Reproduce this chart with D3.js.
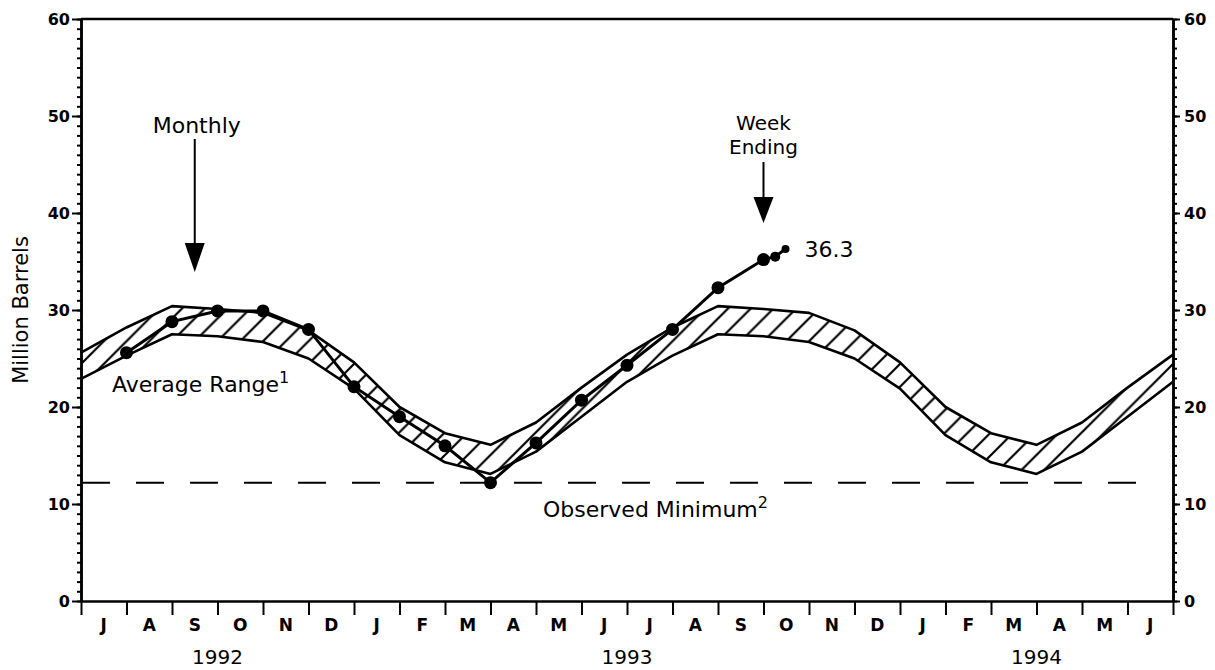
<!DOCTYPE html>
<html>
<head>
<meta charset="utf-8">
<script src="https://cdn.jsdelivr.net/npm/d3@7"></script>
<style>
  body { margin: 0; background: #fff; }
  text { font-family: "DejaVu Sans", sans-serif; fill: #000; }
</style>
</head>
<body>
<svg width="1215" height="670"></svg>
<script>
// month labels, Jul 1992 .. Jun 1994
var months = ["J","A","S","O","N","D","J","F","M","A","M","J","J","A","S","O","N","D","J","F","M","A","M","J"];
var years = ["1992", "1993", "1994"];
var yearStart = [0, 6, 18];
var yearEnd = [6, 18, 24];

// average range, values at each month end (index 0 = end of Jun 1992)
var bandUpper = [25.6, 28.2, 30.4, 30.1, 29.7, 27.9, 24.6, 20.0, 17.3, 16.1, 18.4, 22.0, 25.4,
                 28.2, 30.4, 30.1, 29.7, 27.9, 24.6, 20.0, 17.3, 16.1, 18.4, 22.0, 25.4];
var bandLower = [22.9, 25.3, 27.5, 27.3, 26.7, 25.0, 21.9, 17.1, 14.3, 13.1, 15.4, 19.0, 22.6,
                 25.3, 27.5, 27.3, 26.7, 25.0, 21.9, 17.1, 14.3, 13.1, 15.4, 19.0, 22.6];

// monthly stocks, end of Jul 1992 .. end of Sep 1993
var monthlyStocks = [25.6, 28.8, 29.9, 29.9, 28.0, 22.1, 19.0, 16.0, 12.2, 16.3, 20.7, 24.3, 28.0, 32.3, 35.2];
// weekly stocks
var weekEnding = ["1993-10-08", "1993-10-15"];
var weeklyStocks = [35.5, 36.3];

var observedMin = 12.2;
var yTicks = [0, 10, 20, 30, 40, 50, 60];

var svg = d3.select("svg");
var x = d3.scaleLinear().domain([0, 24]).range([81, 1173]);
var y = d3.scaleLinear().domain([0, 60]).range([601, 19]);

var parse = d3.timeParse("%Y-%m-%d");
function monthPos(s) {
  var d = parse(s);
  var days = new Date(d.getFullYear(), d.getMonth() + 1, 0).getDate();
  return (d.getFullYear() - 1992) * 12 + d.getMonth() - 6 + d.getDate() / days;
}

// hatch pattern, two strokes per month
var hw = (x(1) - x(0)) / 2;
var pat = svg.append("defs").append("pattern")
  .attr("id", "hatch")
  .attr("patternUnits", "userSpaceOnUse")
  .attr("x", x(0)).attr("y", 0)
  .attr("width", hw).attr("height", hw);
pat.append("path")
  .attr("d", "M-2,2 L2,-2 M0," + hw + " L" + hw + ",0 M" + (hw - 2) + "," + (hw + 2) + " L" + (hw + 2) + "," + (hw - 2))
  .attr("stroke", "#000").attr("stroke-width", 2.2);

var bandData = bandUpper.map(function (v, i) { return { i: i, hi: v, lo: bandLower[i] }; });

svg.append("path")
  .datum(bandData)
  .attr("fill", "url(#hatch)")
  .attr("d", d3.area()
    .x(function (d) { return x(d.i); })
    .y0(function (d) { return y(d.lo); })
    .y1(function (d) { return y(d.hi); }));

var bandLine = function (key) {
  return d3.line()
    .x(function (d) { return x(d.i); })
    .y(function (d) { return y(d[key]); });
};
["hi", "lo"].forEach(function (k) {
  svg.append("path")
    .datum(bandData)
    .attr("fill", "none")
    .attr("stroke", "#000")
    .attr("stroke-width", 2.6)
    .attr("stroke-linejoin", "round")
    .attr("d", bandLine(k));
});

// observed minimum
svg.append("line")
  .attr("x1", x(0) + 1).attr("x2", x(23.5))
  .attr("y1", y(observedMin)).attr("y2", y(observedMin))
  .attr("stroke", "#000")
  .attr("stroke-width", 2)
  .attr("stroke-dasharray", "28,26");

// stocks line
var monthly = monthlyStocks.map(function (v, i) { return { p: i + 1, v: v }; });
var weekly = weeklyStocks.map(function (v, i) { return { p: monthPos(weekEnding[i]), v: v }; });
var all = monthly.concat(weekly);

svg.append("path")
  .datum(all)
  .attr("fill", "none")
  .attr("stroke", "#000")
  .attr("stroke-width", 3)
  .attr("d", d3.line()
    .x(function (d) { return x(d.p); })
    .y(function (d) { return y(d.v); }));

svg.selectAll(".mdot")
  .data(monthly)
  .enter().append("circle")
  .attr("class", "mdot")
  .attr("cx", function (d) { return x(d.p); })
  .attr("cy", function (d) { return y(d.v); })
  .attr("r", 6.5);

svg.selectAll(".wdot")
  .data(weekly)
  .enter().append("circle")
  .attr("class", "wdot")
  .attr("cx", function (d) { return x(d.p); })
  .attr("cy", function (d) { return y(d.v); })
  .attr("r", function (d, i) { return 5 - i; });

// axes
function styleAxis(g) {
  g.selectAll("path.domain").attr("stroke-width", 2.5);
  g.selectAll(".tick line").attr("stroke-width", 2);
  g.selectAll("text")
    .attr("font-family", "DejaVu Sans")
    .attr("font-weight", "bold")
    .attr("font-size", 16)
    .attr("fill", "#000");
}

svg.append("g")
  .attr("transform", "translate(" + x(0) + ",0)")
  .call(d3.axisLeft(y).tickValues(d3.range(0, 61, 1)).tickSize(4).tickSizeOuter(0).tickFormat(""))
  .call(styleAxis);
svg.append("g")
  .attr("transform", "translate(" + x(0) + ",0)")
  .call(d3.axisLeft(y).tickValues(yTicks).tickSize(9).tickPadding(2).tickSizeOuter(0))
  .call(styleAxis);
svg.append("g")
  .attr("transform", "translate(" + x(24) + ",0)")
  .call(d3.axisRight(y).tickValues(d3.range(0, 61, 1)).tickSize(4).tickSizeOuter(0).tickFormat(""))
  .call(styleAxis);
svg.append("g")
  .attr("transform", "translate(" + x(24) + ",0)")
  .call(d3.axisRight(y).tickValues(yTicks).tickSize(7).tickPadding(4).tickSizeOuter(0))
  .call(styleAxis);
svg.append("g")
  .attr("transform", "translate(0," + y(0) + ")")
  .call(d3.axisBottom(x).tickValues(d3.range(0, 25)).tickSize(14).tickSizeOuter(0).tickFormat(""))
  .call(styleAxis);
svg.append("line")
  .attr("x1", x(0)).attr("x2", x(24))
  .attr("y1", y(60)).attr("y2", y(60))
  .attr("stroke", "#000").attr("stroke-width", 2.5);

svg.selectAll(".month")
  .data(months)
  .enter().append("text")
  .attr("class", "month")
  .attr("x", function (d, i) { return x(i + 0.5); })
  .attr("y", 631)
  .attr("text-anchor", "middle")
  .attr("font-weight", "bold")
  .attr("font-size", 17)
  .text(function (d) { return d; });

svg.selectAll(".year")
  .data(years)
  .enter().append("text")
  .attr("class", "year")
  .attr("x", function (d, i) { return x((yearStart[i] + yearEnd[i]) / 2); })
  .attr("y", 664)
  .attr("text-anchor", "middle")
  .attr("font-size", 20)
  .text(function (d) { return d; });

svg.append("text")
  .attr("transform", "translate(28," + y(30) + ") rotate(-90)")
  .attr("text-anchor", "middle")
  .attr("font-size", 21)
  .text("Million Barrels");

// annotations
function arrow(cx, top, headTop, tip) {
  svg.append("line")
    .attr("x1", cx).attr("x2", cx)
    .attr("y1", top).attr("y2", headTop + 2)
    .attr("stroke", "#000").attr("stroke-width", 2);
  svg.append("path")
    .attr("d", "M" + (cx - 10) + "," + headTop + " L" + (cx + 10) + "," + headTop + " L" + cx + "," + tip + " Z");
}

var mx = x(2.5);
svg.append("text").attr("x", mx + 2).attr("y", 133).attr("text-anchor", "middle").attr("font-size", 22).text("Monthly");
arrow(mx, 139, 243, 272);

var wx = x(15);
svg.append("text").attr("x", wx).attr("y", 130).attr("text-anchor", "middle").attr("font-size", 20).text("Week");
svg.append("text").attr("x", wx).attr("y", 154).attr("text-anchor", "middle").attr("font-size", 20).text("Ending");
arrow(wx, 162, 197, 223);

var last = weekly[weekly.length - 1];
svg.append("text")
  .attr("x", x(last.p) + 19)
  .attr("y", y(last.v) + 8)
  .attr("font-size", 22)
  .text(d3.format(".1f")(last.v));

var avg = svg.append("text").attr("x", 112).attr("y", 392).attr("font-size", 22);
avg.append("tspan").text("Average Range");
avg.append("tspan").attr("dy", -9).attr("font-size", 16).text("1");

var obs = svg.append("text").attr("x", 543).attr("y", 517).attr("font-size", 22);
obs.append("tspan").text("Observed Minimum");
obs.append("tspan").attr("dy", -9).attr("font-size", 16).text("2");
</script>
</body>
</html>
